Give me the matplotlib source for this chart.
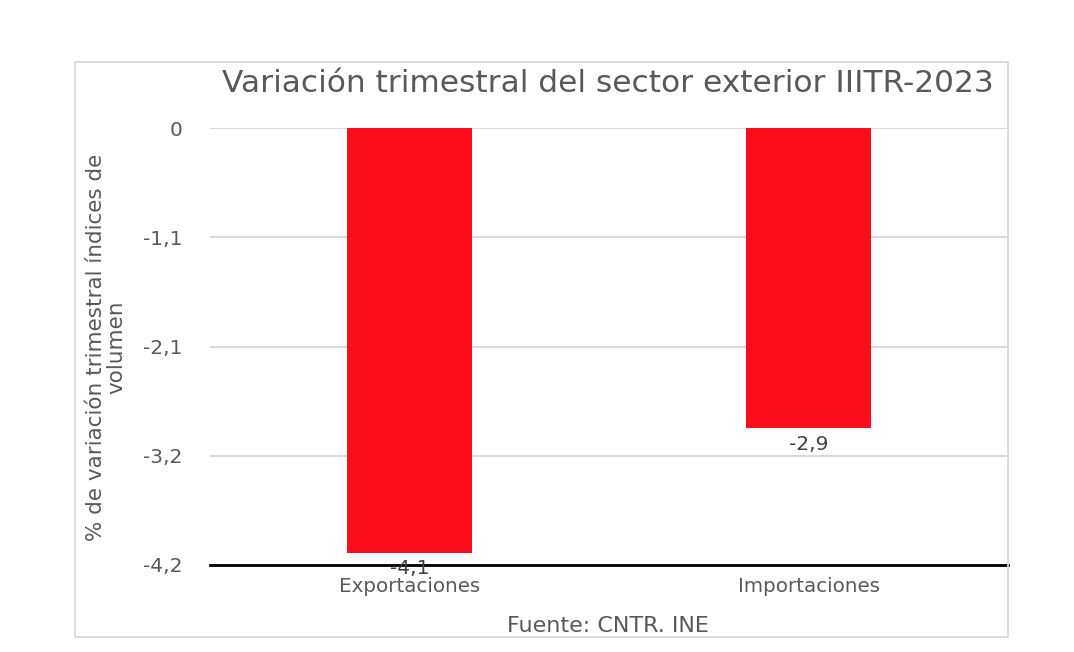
import matplotlib
matplotlib.use("Agg")
import matplotlib.pyplot as plt
from matplotlib.patches import Rectangle

categories = ["Exportaciones", "Importaciones"]
values = [-4.08, -2.88]
value_labels = ["-4,1", "-2,9"]
ytick_values = [0, -1.05, -2.1, -3.15, -4.2]
ytick_labels = ["0", "-1,1", "-2,1", "-3,2", "-4,2"]

title = "Variación trimestral del sector exterior IIITR-2023"
ylabel = "% de variación trimestral índices de\nvolumen"
source = "Fuente: CNTR. INE"

W, H = 1074, 652
fig = plt.figure(figsize=(W / 100, H / 100), dpi=100)
fig.patch.set_facecolor("white")
plt.rcParams["font.family"] = ["DejaVu Sans"]
grey = "#595959"

# outer chart frame
fig.add_artist(Rectangle((75 / W, 1 - 637 / H), (1008 - 75) / W, (637 - 62) / H,
                         transform=fig.transFigure, fill=False,
                         edgecolor="#D9D9D9", linewidth=1.3))

ax = fig.add_axes([210 / W, 1 - 565 / H, (1008 - 210) / W, (565 - 128) / H])
x = list(range(len(categories)))
ax.bar(x, values, width=0.313, color="#FC0D1B", zorder=3)
ax.set_xlim(-0.5, 1.5)
ax.set_ylim(-4.2, 0)
ax.set_yticks(ytick_values)
ax.set_yticklabels(ytick_labels, fontsize=14.5, color=grey)
ax.set_xticks(x)
ax.set_xticklabels(categories, fontsize=14.3, color=grey)
ax.tick_params(axis="both", length=0)
ax.tick_params(axis="y", pad=20)
ax.tick_params(axis="x", pad=9)
for s in ["left", "right", "top"]:
    ax.spines[s].set_visible(False)
ax.spines["bottom"].set_color("black")
ax.spines["bottom"].set_linewidth(2)
ax.spines["bottom"].set_zorder(4)
ax.yaxis.grid(True, color="#D9D9D9", linewidth=1.5, zorder=0)
ax.set_axisbelow(True)

for xi, v, lab in zip(x, values, value_labels):
    ax.annotate(lab, (xi, v), xytext=(0, -5), textcoords="offset points",
                ha="center", va="top", fontsize=14.5, color="#404040", zorder=5)

fig.text(608 / W, 1 - 83 / H, title, ha="center", va="center", fontsize=22.5, color=grey)
fig.text(106 / W, 1 - 347 / H, ylabel, ha="center", va="center", rotation=90,
         fontsize=15.5, color=grey, linespacing=1.0)
fig.text(608 / W, 1 - 626 / H, source, ha="center", va="center", fontsize=16, color=grey)

fig.savefig("out.png", dpi=100)
